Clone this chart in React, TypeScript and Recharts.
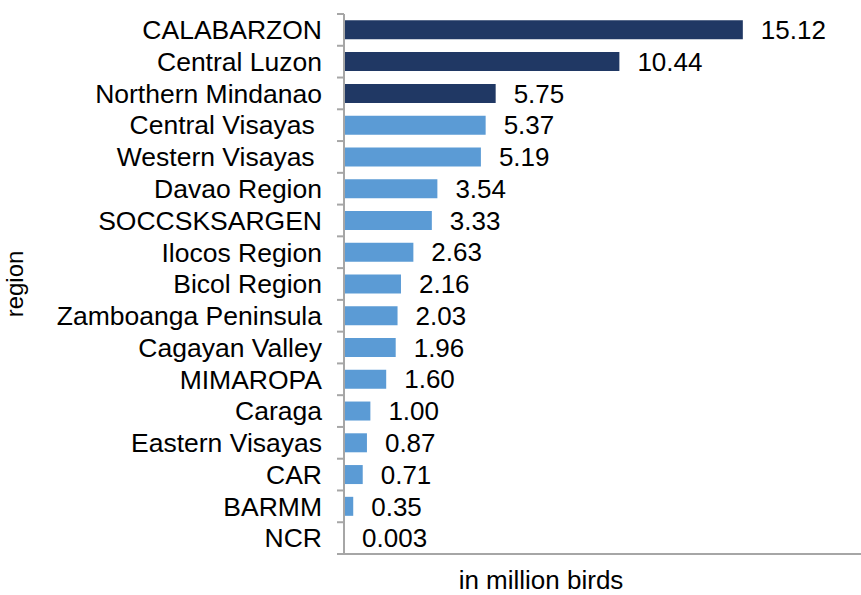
import React from 'react';
import { BarChart, Bar, XAxis, YAxis, Cell, LabelList } from 'recharts';

const REGIONS = [
  'CALABARZON', 'Central Luzon', 'Northern Mindanao', 'Central Visayas ', 'Western Visayas ',
  'Davao Region', 'SOCCSKSARGEN', 'Ilocos Region', 'Bicol Region', 'Zamboanga Peninsula',
  'Cagayan Valley', 'MIMAROPA', 'Caraga', 'Eastern Visayas', 'CAR', 'BARMM', 'NCR',
];
const BIRDS = [15.12, 10.44, 5.75, 5.37, 5.19, 3.54, 3.33, 2.63, 2.16, 2.03, 1.96, 1.6, 1.0, 0.87, 0.71, 0.35, 0.003];
const TOP_COUNT = 3;

const DARK = '#203864';
const LIGHT = '#5b9bd5';
const AXIS = '#a6a6a6';
const FONT = "'Liberation Sans', Arial, Helvetica, sans-serif";

const W = 861;
const H = 595;
const TOP = 14;
const BOTTOM_AXIS_H = 41;
const HALF_BAND = (H - TOP - BOTTOM_AXIS_H) / REGIONS.length / 2;

const data = REGIONS.map((region, i) => ({ region, value: BIRDS[i] }));

function RegionTick({ x, y, payload, index }: any) {
  // ticks sit between categories, like the source chart
  const ax = x + 15;
  return (
    <g>
      <line x1={ax} x2={ax + 7} y1={y - HALF_BAND} y2={y - HALF_BAND} stroke={AXIS} strokeWidth={2} />
      {index === REGIONS.length - 1 && (
        <line x1={ax} x2={ax + 7} y1={y + HALF_BAND} y2={y + HALF_BAND} stroke={AXIS} strokeWidth={2} />
      )}
      <text x={x} y={y} dy="0.35em" textAnchor="end" fontSize={26.5} fill="#000" fontFamily={FONT} style={{ whiteSpace: 'pre' }}>
        {payload.value}
      </text>
    </g>
  );
}

const fmt = (v: number) => (v < 0.01 ? String(v) : v.toFixed(2));

export default function App() {
  return (
    <div style={{ position: 'absolute', left: 0, top: 0, background: '#fff' }}>
      <BarChart
        width={W}
        height={H}
        data={data}
        layout="vertical"
        margin={{ top: TOP, right: 0, bottom: 0, left: 0 }}
        barCategoryGap="20%"
      >
        <XAxis
          type="number"
          domain={[0, 19.6]}
          tick={false}
          tickLine={false}
          height={BOTTOM_AXIS_H}
          axisLine={{ stroke: AXIS, strokeWidth: 2 }}
          label={({ viewBox }: any) => (
            <text x={viewBox.x + 197} y={viewBox.y + 35} textAnchor="middle" fontSize={26} fill="#000" fontFamily={FONT}>
              in million birds
            </text>
          )}
        />
        <XAxis
          xAxisId="top"
          orientation="top"
          type="number"
          domain={[0, 19.6]}
          tick={false}
          tickLine={false}
          height={0}
          axisLine={{ stroke: AXIS, strokeWidth: 2 }}
        />
        <YAxis
          type="category"
          dataKey="region"
          width={344}
          tickLine={false}
          tickSize={7}
          tickMargin={15}
          interval={0}
          tick={<RegionTick />}
          axisLine={{ stroke: AXIS, strokeWidth: 2 }}
          label={({ viewBox }: any) => (
            <text
              x={15}
              y={viewBox.y + viewBox.height / 2}
              transform={`rotate(-90 15 ${viewBox.y + viewBox.height / 2})`}
              dy="0.35em"
              textAnchor="middle"
              fontSize={24}
              fill="#000"
              fontFamily={FONT}
            >
              region
            </text>
          )}
        />
        <Bar dataKey="value" isAnimationActive={false}>
          {data.map((d, i) => (
            <Cell key={d.region} fill={i < TOP_COUNT ? DARK : LIGHT} />
          ))}
          <LabelList
            dataKey="value"
            position="right"
            offset={18}
            formatter={fmt}
            fontSize={26}
            fill="#000"
            fontFamily={FONT}
          />
        </Bar>
      </BarChart>
    </div>
  );
}
